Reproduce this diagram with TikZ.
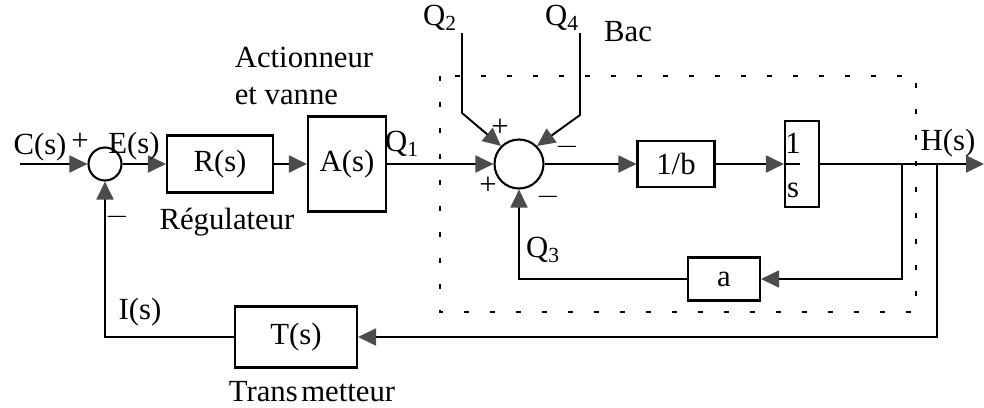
\documentclass[tikz,border=0pt]{standalone}
\usepackage{fontspec}
\setmainfont{Liberation Serif}
\usetikzlibrary{arrows.meta}

\tikzset{
  blockbox/.style={draw, line width=1.2pt, inner sep=0pt},
  sumnode/.style={circle, draw, line width=1.2pt, inner sep=0pt},
  arr/.style={-{Triangle[length=0.36cm, width=0.34cm, fill=black!70, color=black!70]}},
  sign/.style={inner sep=0pt},
  bacline/.style={line width=1.4pt, dash pattern=on 0.1cm off 0.42cm}
}

\begin{document}
\begin{tikzpicture}[x=0.02cm, y=-0.02cm, line width=1.1pt,
  every node/.style={font=\fontsize{17.5}{21}\selectfont}]
\useasboundingbox (0,0) rectangle (984,407);

\draw[bacline] (440,76) rectangle (916,312);

\coordinate (cin) at (20,164);
\coordinate (q2) at (462,33);
\coordinate (q4) at (580,33);
\coordinate (hout) at (984,164);
\coordinate (br1) at (902,164);
\coordinate (br2) at (937,164);

\node[sumnode, minimum size=0.66cm] (sum1) at (105,164) {};
\node[blockbox, minimum width=2.12cm, minimum height=1.14cm] (reg) at (220,164) {R(s)};
\node[blockbox, minimum width=1.56cm, minimum height=1.9cm] (act) at (347,164) {A(s)};
\node[sumnode, minimum size=0.98cm] (sum2) at (519,164) {};
\node[blockbox, minimum width=1.54cm, minimum height=0.92cm] (invb) at (676,164) {1/b};
\node[blockbox, minimum width=0.68cm, minimum height=1.72cm] (ints) at (802,164) {};
\node[blockbox, minimum width=1.44cm, minimum height=0.86cm] (gain) at (724,279) {a};
\node[blockbox, minimum width=2.44cm, minimum height=1.22cm] (trans) at (296,337) {T(s)};

\node at (793,143) {1};
\node at (793,190) {s};
\draw (785,164) -- (800,164);

\draw[arr] (cin) -- (sum1.west);
\draw[arr] (sum1.east) -- (reg.west);
\draw[arr] (reg.east) -- (act.west);
\draw[arr] (act.east) -- (sum2.west);
\draw[arr] (q2) -- (462,113) -- (sum2.135);
\draw[arr] (q4) -- (580,115) -- (sum2.45);
\draw[arr] (sum2.east) -- (invb.west);
\draw[arr] (invb.east) -- (ints.west);
\draw[arr] (ints.east) -- (hout);
\draw[arr] (br1) |- (gain.east);
\draw[arr] (gain.west) -| (sum2.south);
\draw[arr] (br2) |- (trans.east);
\draw[arr] (trans.west) -| (sum1.south);

\node at (40,147) {C(s)};
\node[sign] at (80,142) {+};
\node at (134,146) {E(s)};
\node[sign] at (117,217) {$-$};
\node at (227,222) {Régulateur};
\node[align=left, anchor=west] at (228,76) {Actionneur\\et vanne};
\node at (402,144) {Q\textsubscript{1}};
\node at (440,18) {Q\textsubscript{2}};
\node at (562,18) {Q\textsubscript{4}};
\node at (628,32) {Bac};
\node[sign] at (500,128) {+};
\node[sign] at (567,147) {$-$};
\node[sign] at (488,186) {+};
\node[sign] at (548,197) {$-$};
\node at (543,250) {Q\textsubscript{3}};
\node at (948,143) {H(s)};
\node at (140,312) {I(s)};
\node at (312,392) {Trans\hspace{2pt}metteur};
\end{tikzpicture}
\end{document}
